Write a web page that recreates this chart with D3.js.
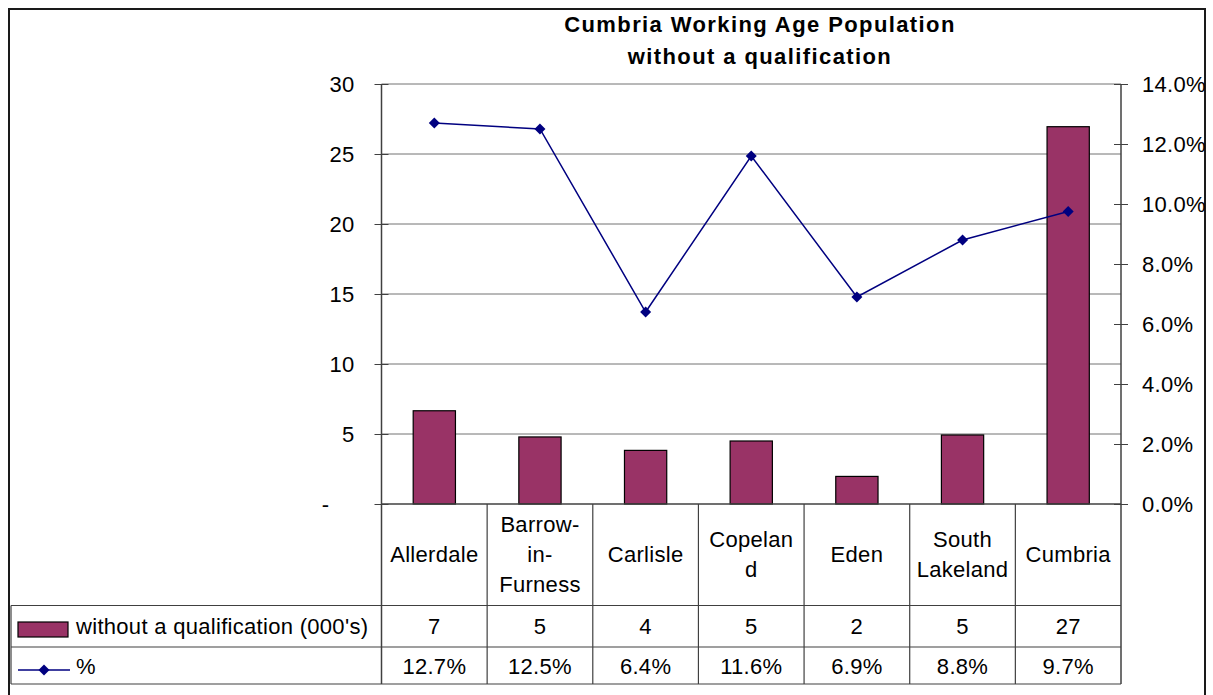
<!DOCTYPE html>
<html>
<head>
<meta charset="utf-8">
<script src="https://cdn.jsdelivr.net/npm/d3@7"></script>
<style>
  html, body { margin: 0; padding: 0; background: #fff; }
  svg { display: block; }
  text { font-family: "Liberation Sans", Arial, sans-serif; fill: #000; }
</style>
</head>
<body>
<svg id="chart" width="1213" height="695"></svg>
<script>
// ---- data ----
const categories = ["Allerdale", "Barrow-in-Furness", "Carlisle", "Copeland", "Eden", "South Lakeland", "Cumbria"];
const categoryLines = [["Allerdale"], ["Barrow-", "in-", "Furness"], ["Carlisle"], ["Copelan", "d"], ["Eden"], ["South", "Lakeland"], ["Cumbria"]];
const withoutQual = [6.66, 4.79, 3.83, 4.5, 1.97, 4.93, 26.95];   // thousands
const withoutQualLabels = ["7", "5", "4", "5", "2", "5", "27"];
const pct = [0.127, 0.125, 0.064, 0.116, 0.069, 0.088, 0.0975];
const pctLabels = ["12.7%", "12.5%", "6.4%", "11.6%", "6.9%", "8.8%", "9.7%"];
const leftTicks = [0, 5, 10, 15, 20, 25, 30];
const rightTicks = [0, 0.02, 0.04, 0.06, 0.08, 0.10, 0.12, 0.14];
const titleLines = ["Cumbria Working Age Population", "without a qualification"];
const seriesNames = ["without a qualification (000's)", "%"];

// ---- layout ----
const svg = d3.select("#chart");
const L = 381.5, R = 1121, T = 84, B = 504;
const rowHdrBottom = 605.5, row2Bottom = 647, row3Bottom = 684;
const legendLeft = 11;
const barColor = "#993366", lineColor = "#000080";
const fs = 22, ls = 0.3;

// frame
svg.append("rect").attr("x", 9).attr("y", 9).attr("width", 1196).attr("height", 700)
  .attr("fill", "none").attr("stroke", "#1a1a1a").attr("stroke-width", 2);

// title
svg.append("g").selectAll("text").data(titleLines).join("text")
  .attr("x", 760).attr("y", (d, i) => 32 + i * 32)
  .attr("text-anchor", "middle").attr("font-size", 22).attr("font-weight", "bold")
  .attr("letter-spacing", 1.4).text(d => d);

// scales
const x = d3.scaleBand().domain(categories).range([L, R]).padding(0);
const yL = d3.scaleLinear().domain([0, 30]).range([B, T]);
const yR = d3.scaleLinear().domain([0, 0.14]).range([B, T]);
const bw = x.bandwidth();

// gridlines
svg.append("g").selectAll("line").data(leftTicks.filter(d => d > 0)).join("line")
  .attr("x1", L).attr("x2", R).attr("y1", d => yL(d)).attr("y2", d => yL(d))
  .attr("stroke", "#737373").attr("stroke-width", 1);

// bars
svg.append("g").selectAll("rect").data(withoutQual).join("rect")
  .attr("x", (d, i) => x(categories[i]) + bw * 0.3)
  .attr("width", bw * 0.4)
  .attr("y", d => yL(d))
  .attr("height", d => yL(0) - yL(d))
  .attr("fill", barColor).attr("stroke", "#000").attr("stroke-width", 1.2);

// line
const cx = (d, i) => x(categories[i]) + bw / 2;
svg.append("path").datum(pct)
  .attr("d", d3.line().x(cx).y(d => yR(d)))
  .attr("fill", "none").attr("stroke", lineColor).attr("stroke-width", 1.5);
const diamond = "M0,-5.5L5.5,0L0,5.5L-5.5,0Z";
svg.append("g").selectAll("path").data(pct).join("path")
  .attr("transform", (d, i) => `translate(${cx(d, i)},${yR(d)})`)
  .attr("d", diamond).attr("fill", lineColor);

// left axis
const axL = svg.append("g").attr("transform", `translate(${L},0)`)
  .call(d3.axisLeft(yL).tickValues(leftTicks).tickSize(7).tickPadding(20)
    .tickFormat(d => d === 0 ? "-" : d3.format("d")(d)));
axL.select(".domain").remove();
axL.selectAll(".tick line").attr("x1", -7).attr("x2", 7).attr("stroke", "#404040");
axL.selectAll(".tick text").attr("font-size", fs).attr("letter-spacing", ls)
  .attr("font-family", "Liberation Sans, Arial, sans-serif").attr("fill", "#000")
  .attr("x", d => d === 0 ? -52 : -27);
svg.append("line").attr("x1", L).attr("x2", L).attr("y1", T).attr("y2", row3Bottom)
  .attr("stroke", "#404040").attr("stroke-width", 1.5);

// right axis
const axR = svg.append("g").attr("transform", `translate(${R},0)`)
  .call(d3.axisRight(yR).tickValues(rightTicks).tickSize(7).tickPadding(14)
    .tickFormat(d3.format(".1%")));
axR.select(".domain").remove();
axR.selectAll(".tick line").attr("x1", -7).attr("x2", 7).attr("stroke", "#404040");
axR.selectAll(".tick text").attr("font-size", fs).attr("letter-spacing", ls)
  .attr("font-family", "Liberation Sans, Arial, sans-serif").attr("fill", "#000");
svg.append("line").attr("x1", R).attr("x2", R).attr("y1", T).attr("y2", row3Bottom)
  .attr("stroke", "#404040").attr("stroke-width", 1.5);

// data table lines
const tbl = svg.append("g").attr("stroke", "#404040").attr("stroke-width", 1.2);
tbl.append("line").attr("x1", L).attr("x2", R).attr("y1", B).attr("y2", B).attr("stroke-width", 1.5);
[rowHdrBottom, row2Bottom, row3Bottom].forEach(yv =>
  tbl.append("line").attr("x1", legendLeft).attr("x2", R).attr("y1", yv).attr("y2", yv));
tbl.append("line").attr("x1", legendLeft).attr("x2", legendLeft).attr("y1", rowHdrBottom).attr("y2", row3Bottom);
tbl.selectAll("line.col").data(categories.slice(1)).join("line").attr("class", "col")
  .attr("x1", d => x(d)).attr("x2", d => x(d)).attr("y1", B).attr("y2", row3Bottom);

// category headers
const hdrMid = (B + rowHdrBottom) / 2;
const hdr = svg.append("g").selectAll("text").data(categoryLines).join("text")
  .attr("text-anchor", "middle").attr("font-size", fs).attr("letter-spacing", ls);
hdr.each(function (lines, i) {
  const t = d3.select(this);
  const cxv = x(categories[i]) + bw / 2;
  lines.forEach((ln, j) => {
    t.append("tspan").attr("x", cxv)
      .attr("y", hdrMid - (lines.length - 1) * 15 + j * 30 + 7.5)
      .text(ln);
  });
});

// value rows
svg.append("g").selectAll("text").data(withoutQualLabels).join("text")
  .attr("x", (d, i) => x(categories[i]) + bw / 2).attr("y", (rowHdrBottom + row2Bottom) / 2 + 8)
  .attr("text-anchor", "middle").attr("font-size", fs).attr("letter-spacing", ls).text(d => d);
svg.append("g").selectAll("text").data(pctLabels).join("text")
  .attr("x", (d, i) => x(categories[i]) + bw / 2).attr("y", (row2Bottom + row3Bottom) / 2 + 8)
  .attr("text-anchor", "middle").attr("font-size", fs).attr("letter-spacing", ls).text(d => d);

// legend keys
svg.append("rect").attr("x", 18).attr("y", 622).attr("width", 50).attr("height", 15)
  .attr("fill", barColor).attr("stroke", "#000").attr("stroke-width", 1.2);
svg.append("text").attr("x", 76).attr("y", (rowHdrBottom + row2Bottom) / 2 + 8)
  .attr("font-size", fs).attr("letter-spacing", ls).text(seriesNames[0]);
svg.append("line").attr("x1", 18).attr("x2", 70).attr("y1", 670).attr("y2", 670)
  .attr("stroke", lineColor).attr("stroke-width", 1.5);
svg.append("path").attr("transform", "translate(44,670)").attr("d", diamond).attr("fill", lineColor);
svg.append("text").attr("x", 76).attr("y", (row2Bottom + row3Bottom) / 2 + 8)
  .attr("font-size", fs).attr("letter-spacing", ls).text(seriesNames[1]);
</script>
</body>
</html>
